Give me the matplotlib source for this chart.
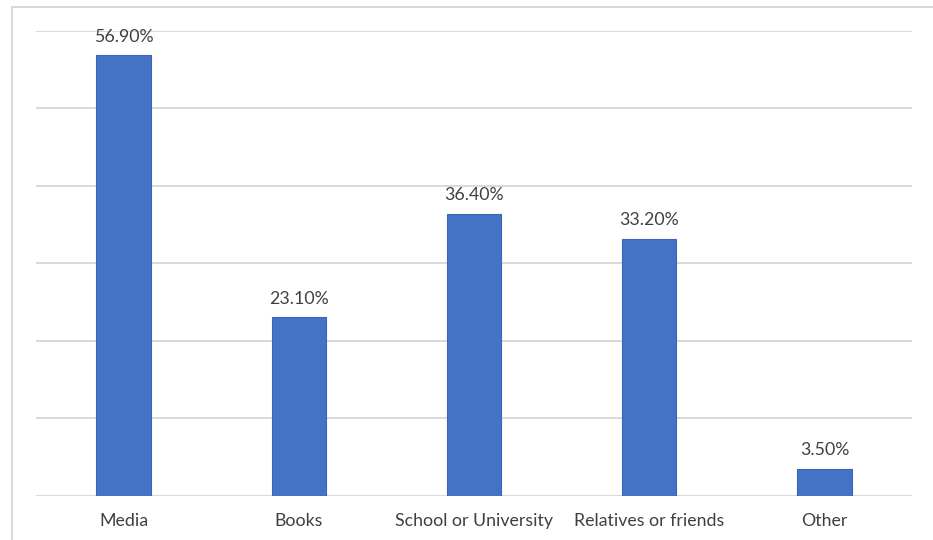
import matplotlib.pyplot as plt
import numpy as np
from matplotlib.lines import Line2D

CATEGORIES = ["Media", "Books", "School or University", "Relatives or friends", "Other"]
VALUES = [56.9, 23.1, 36.4, 33.2, 3.5]
Y_TICKS = [0, 10, 20, 30, 40, 50, 60]

BAR_COLOR = "#4472C4"
BAR_EDGE = "#3A66B8"
GRID_COLOR = "#D9D9D9"
TEXT_COLOR = "#404040"

plt.rcParams["font.family"] = ["Lato", "DejaVu Sans"]

fig = plt.figure(figsize=(9.33, 5.40), dpi=100)
ax = fig.add_axes([0.0386, 0.0815, 0.939, 0.8611])

x = np.arange(len(CATEGORIES))
bars = ax.bar(x, VALUES, width=0.31, color=BAR_COLOR, edgecolor=BAR_EDGE,
              linewidth=0.8, zorder=3)

for rect, v in zip(bars, VALUES):
    ax.annotate(f"{v:.2f}%", (rect.get_x() + rect.get_width() / 2, v),
                xytext=(0, 7.5), textcoords="offset points",
                ha="center", va="bottom", fontsize=12.8, color=TEXT_COLOR)

ax.set_xlim(-0.5, len(CATEGORIES) - 0.5)
ax.set_ylim(0, 60)
ax.set_yticks(Y_TICKS)
ax.set_yticklabels([])
ax.set_xticks(x)
ax.set_xticklabels(CATEGORIES, fontsize=12.8, color=TEXT_COLOR)
ax.tick_params(axis="both", length=0)
ax.tick_params(axis="x", pad=12)
ax.grid(axis="y", color=GRID_COLOR, linewidth=1.4, zorder=0)
for spine in ax.spines.values():
    spine.set_visible(False)

# light outer frame (top and left edges of the chart box)
fig.add_artist(Line2D([12 / 933, 12 / 933], [0, 1 - 7 / 540],
                      transform=fig.transFigure, color=GRID_COLOR, linewidth=1.5))
fig.add_artist(Line2D([12 / 933, 1], [1 - 7 / 540, 1 - 7 / 540],
                      transform=fig.transFigure, color=GRID_COLOR, linewidth=1.5))

fig.savefig("out.png", dpi=100)
